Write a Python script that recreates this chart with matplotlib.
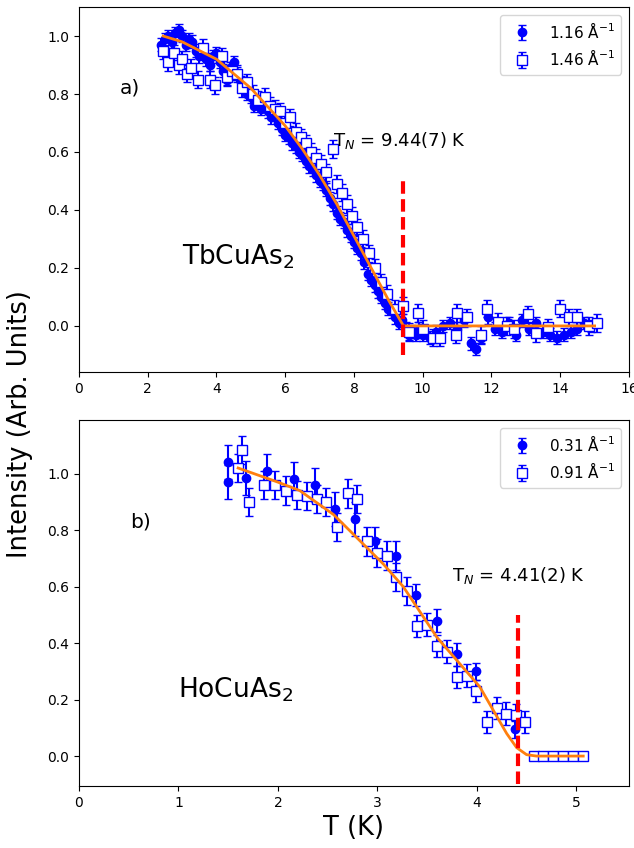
#!/usr/bin/env python3
"""Order-parameter curves for TbCuAs2 and HoCuAs2 (two stacked panels)."""

import matplotlib
matplotlib.use("Agg")
import matplotlib.pyplot as plt
import numpy as np

# ---- top panel: TbCuAs2 ----
TB_Q1_T = [2.4, 2.5, 2.6, 2.7, 2.8, 2.9, 3.0, 3.1, 3.2, 3.3, 3.4, 3.5, 3.6, 3.7, 3.8, 3.9,
           4.0, 4.1, 4.2, 4.3, 4.4, 4.5, 4.6, 4.7, 4.8, 4.9, 5.0, 5.1, 5.2, 5.3, 5.4, 5.5,
           5.6, 5.7, 5.8, 5.9, 6.0, 6.1, 6.2, 6.3, 6.4, 6.5, 6.6, 6.7, 6.8, 6.9, 7.0, 7.1,
           7.2, 7.3, 7.4, 7.5, 7.6, 7.7, 7.8, 7.9, 8.0, 8.1, 8.2, 8.3, 8.4, 8.5, 8.6, 8.7,
           8.8, 8.9, 9.0, 9.1, 9.2, 9.3, 9.4, 9.5, 9.6, 9.7, 9.8, 9.9, 10.0, 10.2, 10.4,
           10.6, 10.8, 11.0, 11.2, 11.4, 11.55, 11.7, 11.9, 12.1, 12.3, 12.5, 12.7, 12.9,
           13.1, 13.3, 13.5, 13.7, 13.9, 14.1, 14.3, 14.5, 14.7, 14.9]
TB_Q1_I = [0.97, 0.99, 1.00, 0.98, 1.01, 1.02, 1.00, 0.97, 0.99, 0.98, 0.95, 0.93, 0.94,
           0.92, 0.90, 0.93, 0.94, 0.91, 0.88, 0.85, 0.89, 0.91, 0.87, 0.84, 0.83, 0.80,
           0.79, 0.76, 0.77, 0.75, 0.76, 0.74, 0.72, 0.73, 0.70, 0.68, 0.66, 0.65, 0.63,
           0.62, 0.60, 0.59, 0.57, 0.55, 0.54, 0.52, 0.50, 0.49, 0.47, 0.44, 0.42, 0.39,
           0.37, 0.36, 0.33, 0.31, 0.29, 0.27, 0.25, 0.22, 0.18, 0.16, 0.14, 0.12, 0.10,
           0.08, 0.06, 0.05, 0.03, 0.01, 0.02, -0.01, -0.03, -0.02, -0.03, -0.01, -0.03,
           -0.04, -0.02, 0.00, 0.01, -0.01, 0.02, -0.06, -0.08, -0.04, 0.03, -0.01, -0.02,
           0.01, -0.03, 0.02, -0.01, 0.01, -0.02, -0.03, -0.04, -0.03, -0.02, -0.01, 0.01,
           0.00]
TB_Q1_ERR = 0.022

TB_Q2_T = [2.45, 2.6, 2.75, 2.9, 3.0, 3.15, 3.25, 3.45, 3.6, 3.8, 3.95, 4.15, 4.3, 4.45,
           4.6, 4.75, 4.9, 5.05, 5.2, 5.4, 5.55, 5.7, 5.85, 6.0, 6.15, 6.3, 6.45, 6.6,
           6.75, 6.9, 7.05, 7.2, 7.4, 7.5, 7.65, 7.8, 7.95, 8.1, 8.25, 8.45, 8.6, 8.8,
           8.95, 9.2, 9.42, 9.6, 9.85, 10.0, 10.3, 10.5, 10.96, 11.0, 11.3, 11.7, 11.87,
           12.2, 12.45, 12.65, 13.06, 13.3, 13.64, 14.0, 14.26, 14.5, 14.85, 15.07]
TB_Q2_I = [0.95, 0.91, 0.94, 0.90, 0.92, 0.87, 0.89, 0.85, 0.96, 0.85, 0.83, 0.93, 0.86,
           0.88, 0.87, 0.82, 0.84, 0.80, 0.78, 0.79, 0.76, 0.75, 0.74, 0.70, 0.72, 0.67,
           0.65, 0.63, 0.60, 0.58, 0.56, 0.53, 0.61, 0.49, 0.46, 0.42, 0.38, 0.34, 0.30,
           0.25, 0.20, 0.15, 0.11, 0.06, 0.07, -0.02, 0.045, -0.01, -0.04, -0.04, -0.03,
           0.045, 0.03, -0.03, 0.06, 0.015, 0.00, -0.01, 0.04, -0.025, -0.005, 0.06, 0.03,
           0.03, 0.00, 0.01]
TB_Q2_ERR = 0.03

TB_FIT_T = [2.45, 3.0, 4.0, 5.0, 6.0, 6.5, 7.0, 7.5, 8.0, 8.5, 9.0, 9.44, 15.0]
TB_FIT_I = [1.00, 0.98, 0.92, 0.82, 0.69, 0.61, 0.52, 0.42, 0.31, 0.20, 0.09, 0.0, 0.0]
TB_TN = 9.44

# ---- bottom panel: HoCuAs2 ----
HO_Q1_T = [1.50, 1.50, 1.68, 1.89, 2.16, 2.37, 2.57, 2.78, 2.98, 3.19, 3.39, 3.60, 3.80,
           3.99, 4.38]
HO_Q1_I = [1.04, 0.97, 0.985, 1.01, 0.98, 0.96, 0.875, 0.84, 0.76, 0.71, 0.57, 0.48, 0.36,
           0.30, 0.095]
HO_Q1_ERR = [0.06, 0.06, 0.06, 0.06, 0.06, 0.06, 0.06, 0.06, 0.05, 0.05, 0.04, 0.04, 0.04,
             0.03, 0.03]

HO_Q2_T = [1.60, 1.64, 1.71, 1.86, 1.97, 2.08, 2.19, 2.29, 2.39, 2.48, 2.59, 2.70, 2.80,
           2.90, 3.00, 3.10, 3.19, 3.30, 3.40, 3.50, 3.60, 3.70, 3.80, 3.90, 3.99, 4.10,
           4.20, 4.29, 4.39, 4.48, 4.57, 4.67, 4.77, 4.87, 4.97, 5.07]
HO_Q2_I = [1.02, 1.085, 0.90, 0.96, 0.96, 0.94, 0.925, 0.92, 0.91, 0.90, 0.81, 0.93, 0.91,
           0.76, 0.72, 0.71, 0.635, 0.585, 0.46, 0.465, 0.39, 0.37, 0.28, 0.285, 0.23, 0.12,
           0.17, 0.15, 0.145, 0.12, 0.0, 0.0, 0.0, 0.0, 0.0, 0.0]
HO_Q2_ERR = [0.05, 0.05, 0.05, 0.05, 0.05, 0.05, 0.05, 0.05, 0.05, 0.05, 0.05, 0.05, 0.05,
             0.05, 0.05, 0.05, 0.05, 0.05, 0.04, 0.04, 0.04, 0.04, 0.04, 0.04, 0.04, 0.04,
             0.04, 0.04, 0.04, 0.04, 0.0, 0.0, 0.0, 0.0, 0.0, 0.0]

HO_FIT_T = [1.60, 2.0, 2.22, 2.56, 3.06, 3.26, 3.6, 4.03, 4.3, 4.4, 4.5, 4.6, 5.07]
HO_FIT_I = [1.02, 0.97, 0.94, 0.855, 0.68, 0.60, 0.42, 0.245, 0.08, 0.03, 0.005, 0.0, 0.0]
HO_TN = 4.41

BLUE = "blue"
ORANGE = "#ff7f0e"


def draw_panel(ax, q1, q2, fit, tn, labels):
    t1, i1, e1 = q1
    t2, i2, e2 = q2
    ax.errorbar(t1, i1, yerr=e1, fmt="o", color=BLUE, ms=6, capsize=3, label=labels[0])
    ax.errorbar(t2, i2, yerr=e2, fmt="s", color=BLUE, mfc="white", mec=BLUE, ms=6.5,
                capsize=3, label=labels[1])
    ax.plot(fit[0], fit[1], color=ORANGE, lw=2, zorder=4)
    ax.plot([tn, tn], [-0.1, 0.5], color="red", ls="--", lw=3, dashes=(3.0, 1.3), zorder=5)
    ax.legend(loc="upper right", fontsize=11)


fig = plt.figure(figsize=(6.34, 8.48), dpi=100)
ax1 = fig.add_axes([0.1246, 0.5613, 0.8675, 0.4304])
ax2 = fig.add_axes([0.1246, 0.0731, 0.8675, 0.4316])

draw_panel(ax1, (TB_Q1_T, TB_Q1_I, TB_Q1_ERR), (TB_Q2_T, TB_Q2_I, TB_Q2_ERR),
           (TB_FIT_T, TB_FIT_I), TB_TN, ["1.16 Å$^{-1}$", "1.46 Å$^{-1}$"])
ax1.set_xlim(0, 16)
ax1.set_ylim(-0.159, 1.1)
ax1.text(1.2, 0.82, "a)", fontsize=14.5, va="center")
ax1.text(3.0, 0.24, "TbCuAs$_2$", fontsize=19, va="center")
ax1.text(7.4, 0.64, "T$_N$ = 9.44(7) K", fontsize=13, va="center")

draw_panel(ax2, (HO_Q1_T, HO_Q1_I, HO_Q1_ERR), (HO_Q2_T, HO_Q2_I, HO_Q2_ERR),
           (HO_FIT_T, HO_FIT_I), HO_TN, ["0.31 Å$^{-1}$", "0.91 Å$^{-1}$"])
ax2.set_xlim(0, 5.53)
ax2.set_ylim(-0.106, 1.19)
ax2.set_xticks([0, 1, 2, 3, 4, 5])
ax2.text(0.51, 0.83, "b)", fontsize=14.5, va="center")
ax2.text(1.0, 0.234, "HoCuAs$_2$", fontsize=19, va="center")
ax2.text(3.75, 0.64, "T$_N$ = 4.41(2) K", fontsize=13, va="center")
ax2.set_xlabel("T (K)", fontsize=18.5)

fig.text(0.032, 0.5, "Intensity (Arb. Units)", rotation=90, fontsize=18.5,
         ha="center", va="center")

fig.savefig("out.png", dpi=100)
